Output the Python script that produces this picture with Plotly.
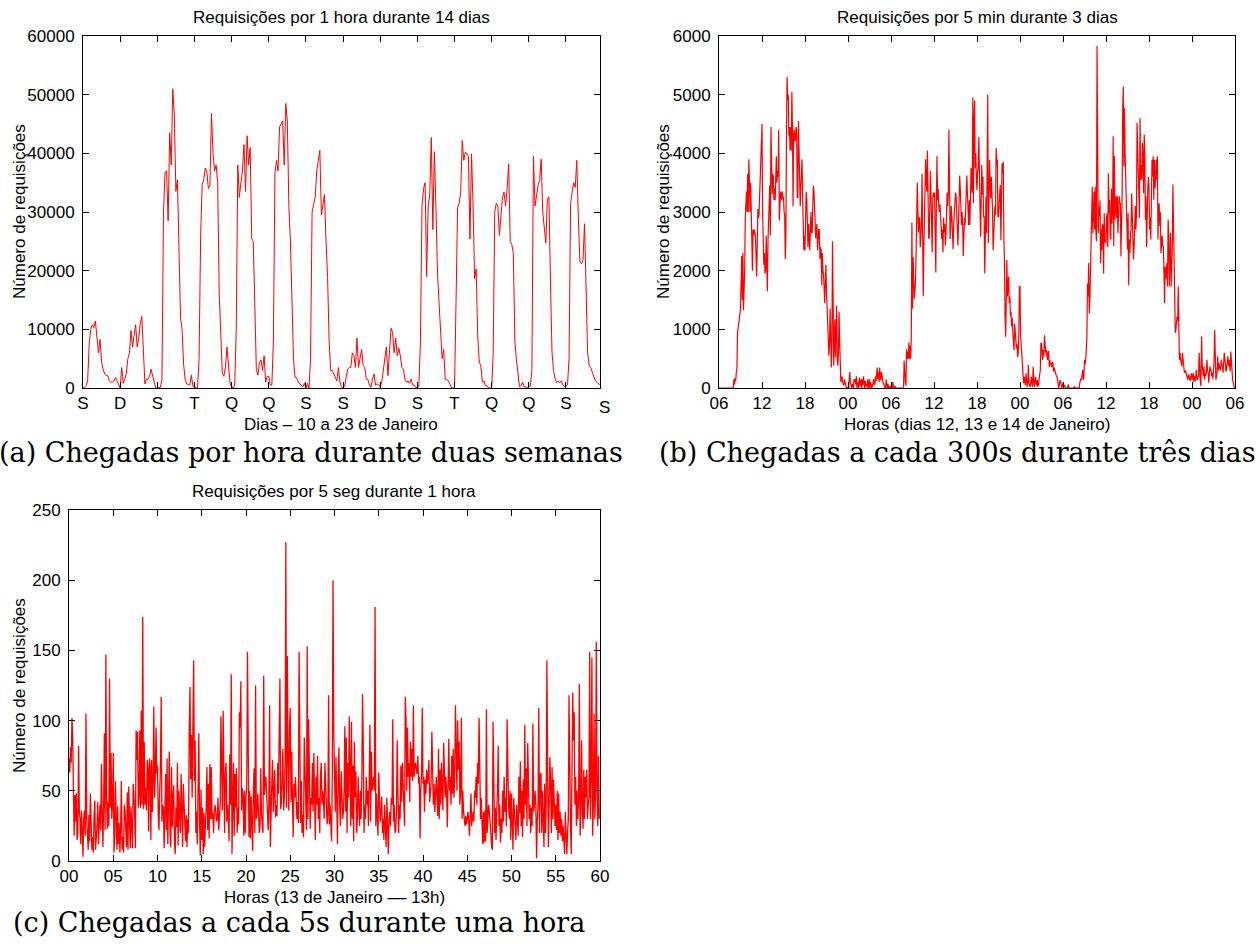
import plotly.graph_objects as go

# ---------------- DATA ----------------
# (a) requests per hour, 14 days (10..23 Jan), 24 values per day
day_labels_a = ["S", "D", "S", "T", "Q", "Q", "S", "S", "D", "S", "T", "Q", "Q", "S", "S"]
day01 = [0, 100, 400, 1200, 7500, 10000, 10800, 10300, 11400, 8300, 6000, 8300, 4400, 3200, 2400, 2100, 2100, 1200, 1000, 1000, 1200, 1800, 1200, 700]
day02 = [0, 3500, 800, 1500, 2500, 5000, 6000, 9800, 7000, 9000, 10800, 7000, 8500, 11000, 12200, 6500, 700, 1500, 1500, 2000, 3200, 2000, 1000, 0]
day03 = [0, 0, 100, 1500, 30000, 36800, 37000, 28500, 43500, 38000, 51000, 46500, 33500, 35500, 25000, 12000, 10000, 4000, 1500, 700, 600, 500, 2200, 300]
day04 = [300, 0, 0, 5000, 26000, 34700, 35500, 37500, 36800, 34000, 34500, 46800, 40000, 37000, 38000, 35000, 16000, 9000, 2500, 2000, 3500, 7000, 3000, 800]
day05 = [200, 0, 500, 10000, 38000, 32500, 35000, 37000, 41500, 33500, 43000, 38000, 41000, 25400, 25000, 12000, 3000, 2200, 4300, 4800, 3000, 5500, 1000, 2000]
day06 = [2000, 500, 500, 8000, 36500, 38800, 37000, 44500, 45000, 45500, 38000, 48500, 45500, 31000, 25000, 15000, 5000, 1800, 1800, 1000, 700, 500, 200, 800]
day07 = [0, 800, 0, 5000, 30000, 31300, 32500, 37000, 38500, 40500, 29500, 31000, 33000, 25000, 19000, 8000, 3000, 3000, 2400, 1500, 1200, 3500, 1000, 200]
day08 = [0, 300, 1500, 3200, 3500, 3500, 6000, 5500, 3500, 8500, 3500, 5000, 6600, 3800, 3500, 1500, 1500, 500, 100, 1500, 2400, 500, 700, 600]
day09 = [200, 1000, 3000, 5000, 7000, 2100, 6500, 10200, 9500, 6000, 8500, 5500, 6800, 5500, 3500, 3200, 1500, 1000, 1200, 800, 1500, 500, 500, 100]
day10 = [0, 400, 8000, 31000, 34000, 35000, 19000, 31000, 33000, 42700, 27000, 40300, 31000, 19700, 14600, 8900, 5000, 6600, 1500, 1500, 1200, 700, 100, 0]
day11 = [0, 14600, 30800, 31400, 33400, 42200, 38800, 40200, 39900, 39500, 25400, 39900, 31000, 18600, 20300, 8900, 4400, 3800, 1000, 1200, 400, 400, 0, 0]
day12 = [0, 6000, 30000, 31500, 31000, 26000, 29000, 32500, 33400, 31000, 34000, 38200, 25000, 24500, 23000, 8000, 4800, 2000, 200, 400, 1000, 200, 100, 100]
day13 = [300, 300, 3000, 39500, 31000, 33000, 34500, 35500, 39000, 30000, 26500, 24700, 32200, 32600, 18000, 6000, 3000, 1500, 900, 1200, 900, 1200, 500, 300]
day14 = [300, 500, 5000, 31400, 33400, 35000, 34200, 38800, 29000, 21600, 21200, 21800, 28000, 14600, 6000, 3800, 3500, 2700, 1800, 1200, 1000, 700, 600, 500]
hourly_a = (day01 + day02 + day03 + day04 + day05 + day06 + day07 + day08 + day09
            + day10 + day11 + day12 + day13 + day14)

# (b) requests per 5 min, 72 h from 06:00 on 12 Jan, 12 values per hour
hour_labels_b = ["06", "12", "18", "00", "06", "12", "18", "00", "06", "12", "18", "00", "06"]
b_hours = [
    [0, 0, 0, 0, 0, 0, 0, 0, 0, 0, 0, 0],
    [0, 0, 0, 0, 0, 0, 0, 0, 0, 0, 0, 0],
    [0, 150, 60, 170, 120, 280, 330, 950, 1000, 1100, 1170, 1250],
    [1350, 1800, 2250, 1500, 2300, 1330, 1550, 2000, 2900, 3200, 3350, 3000],
    [3650, 3000, 3900, 3500, 3000, 3500, 2950, 3000, 2000, 2700, 2600, 2700],
    [2650, 2600, 2250, 1900, 2400, 3050, 2900, 2950, 3300, 3750, 3700, 4200],
    [4500, 3000, 2400, 2100, 2300, 1950, 2000, 2600, 2200, 1650, 2500, 3150],
    [3150, 3450, 2600, 4450, 3600, 3300, 3650, 3600, 3200, 3400, 3200, 3900],
    [3950, 3500, 3700, 3600, 4400, 2850, 3100, 3350, 3300, 3200, 3350, 3250],
    [3250, 3000, 2950, 2200, 2600, 4300, 5300, 4900, 5000, 4300, 4450, 4050],
    [4450, 4050, 5050, 4400, 3100, 4300, 4400, 4200, 4250, 4450, 4400, 3250],
    [3250, 4550, 4000, 3800, 3100, 3400, 3650, 3900, 3300, 2950, 2350, 2600],
    [2350, 2900, 3350, 3200, 2700, 2400, 2800, 2600, 2350, 2700, 3000, 2650],
    [2650, 3100, 3450, 3350, 2900, 2800, 2550, 2700, 2800, 2350, 2600, 2700],
    [2700, 2200, 2400, 2350, 1750, 2300, 2000, 1950, 1700, 1450, 1800, 2100],
    [1650, 1400, 1300, 900, 550, 750, 1350, 900, 350, 600, 2500, 1600],
    [380, 800, 1170, 520, 900, 1400, 500, 380, 600, 1300, 800, 350],
    [100, 150, 200, 100, 60, 40, 150, 80, 70, 20, 10, 0],
    [0, 0, 150, 270, 100, 40, 0, 70, 20, 0, 150, 100],
    [150, 60, 200, 0, 40, 100, 0, 180, 100, 30, 150, 0],
    [150, 50, 200, 40, 0, 120, 30, 70, 0, 150, 60, 0],
    [150, 0, 100, 30, 0, 40, 100, 150, 50, 80, 200, 120],
    [250, 350, 150, 270, 100, 350, 200, 130, 270, 200, 80, 70],
    [70, 20, 0, 0, 150, 60, 0, 70, 0, 10, 0, 40],
    [0, 40, 0, 100, 20, 0, 40, 0, 0, 0, 0, 0],
    [0, 0, 0, 0, 0, 0, 0, 0, 0, 0, 470, 100],
    [100, 40, 660, 500, 620, 500, 780, 500, 720, 500, 900, 2820],
    [1350, 2230, 1700, 1520, 1650, 1800, 2300, 2900, 3500, 3000, 2650, 2900],
    [2900, 2400, 2600, 2800, 3650, 3000, 1570, 2400, 2950, 3300, 3900, 3500],
    [3350, 4050, 3000, 2570, 2540, 3100, 3700, 3280, 2800, 2310, 3250, 3330],
    [3250, 3330, 2600, 1970, 3200, 3950, 3200, 3400, 3100, 3000, 3130, 2900],
    [2900, 2540, 2700, 2310, 2900, 2650, 2800, 2430, 2600, 2950, 3330, 3100],
    [3330, 4400, 2600, 2540, 2800, 3100, 2900, 2600, 2370, 2800, 3100, 3300],
    [3330, 3280, 3000, 2900, 2430, 2800, 3440, 3620, 3400, 3200, 2780, 3000],
    [2780, 2250, 2600, 2900, 2780, 3000, 3280, 3620, 3300, 3000, 2780, 3200],
    [2780, 3200, 3750, 3440, 3330, 4950, 3150, 4550, 4900, 3740, 4000, 3550],
    [3375, 3700, 3720, 4280, 3500, 3030, 2580, 3200, 3800, 3300, 3600, 2920],
    [2920, 1950, 2600, 3260, 2640, 4000, 5000, 2470, 3200, 3890, 3500, 3230],
    [3600, 3300, 3030, 2350, 2700, 2890, 3100, 2950, 4090, 3800, 3900, 2920],
    [2920, 3150, 3300, 3460, 2520, 3000, 3830, 3660, 3850, 2540, 2180, 1220],
    [875, 1500, 2180, 1560, 1700, 1900, 1450, 1560, 1220, 1300, 1050, 1200],
    [930, 800, 650, 1100, 900, 820, 680, 750, 530, 600, 850, 1730],
    [1730, 900, 760, 600, 420, 250, 80, 190, 100, 50, 250, 120],
    [20, 100, 390, 80, 30, 20, 100, 190, 80, 20, 360, 200],
    [20, 120, 190, 80, 40, 140, 20, 60, 190, 250, 310, 760],
    [760, 600, 480, 650, 550, 900, 730, 600, 650, 580, 480, 620],
    [620, 360, 480, 400, 420, 360, 450, 420, 280, 350, 310, 250],
    [250, 200, 190, 120, 80, 0, 60, 140, 100, 80, 0, 30],
    [80, 20, 40, 50, 0, 0, 0, 0, 20, 60, 0, 0],
    [0, 0, 0, 0, 0, 0, 0, 20, 0, 0, 0, 0],
    [0, 0, 0, 0, 80, 120, 160, 140, 200, 310, 140, 200],
    [480, 400, 480, 650, 875, 1780, 1560, 2130, 1270, 1500, 2000, 2410],
    [3030, 3430, 2640, 3000, 3350, 2700, 3430, 2700, 2500, 5830, 3430, 2640],
    [3090, 2920, 3200, 2130, 2700, 2350, 2800, 2750, 1950, 2980, 2500, 2470],
    [2470, 2920, 2980, 2400, 3660, 2980, 3210, 2600, 2530, 3400, 2800, 3000],
    [4290, 2420, 3950, 2870, 3100, 3270, 2900, 3270, 2640, 3000, 3270, 3150],
    [3150, 2240, 2760, 3300, 4770, 5140, 3780, 4770, 4000, 3500, 2870, 2360],
    [2360, 2980, 1750, 2530, 2300, 2640, 2700, 3320, 2870, 2500, 2190, 2400],
    [2810, 3100, 2700, 2980, 4520, 3890, 3500, 3320, 2900, 4600, 3550, 3800],
    [3550, 4180, 3950, 3320, 4320, 4000, 2870, 3270, 2400, 3100, 3410, 3600],
    [3410, 2700, 2900, 2530, 3100, 3890, 3600, 3950, 3210, 3890, 3400, 3550],
    [3890, 3550, 3950, 2530, 3010, 3150, 2760, 3000, 2300, 2420, 2600, 2420],
    [2420, 2020, 1450, 2070, 1850, 2000, 2130, 1730, 2870, 2640, 1730, 2190],
    [2640, 1730, 2190, 2360, 3470, 2800, 1620, 1160, 940, 990, 1100, 1220],
    [1140, 1730, 990, 480, 600, 480, 400, 370, 600, 450, 310, 280],
    [260, 300, 260, 200, 150, 140, 230, 200, 170, 120, 200, 250],
    [140, 200, 260, 100, 200, 170, 120, 310, 200, 140, 180, 200],
    [600, 260, 100, 30, 880, 400, 310, 200, 370, 140, 260, 200],
    [260, 480, 300, 260, 90, 200, 370, 300, 310, 200, 260, 150],
    [260, 480, 990, 310, 140, 200, 260, 540, 300, 430, 350, 310],
    [310, 480, 400, 370, 260, 450, 600, 500, 430, 280, 350, 540],
    [540, 370, 480, 400, 280, 620, 400, 200, 140, 100, 30, 0],
]
five_min_b = [v for hour in b_hours for v in hour]

# (c) requests per 5 s during one hour (13 Jan, 13h), 12 values per minute
minute_labels_c = ["00", "05", "10", "15", "20", "25", "30", "35", "40", "45", "50", "55", "60"]
c_minutes = [
    [73, 63, 81, 70, 102, 88, 50, 18, 47, 28, 48, 15],
    [20, 82, 35, 30, 12, 36, 22, 3, 30, 36, 18, 105],
    [30, 12, 8, 33, 14, 48, 28, 8, 17, 6, 32, 43],
    [8, 15, 25, 42, 12, 28, 40, 22, 69, 35, 10, 40],
    [91, 22, 147, 45, 23, 42, 25, 130, 38, 77, 30, 40],
    [77, 6, 18, 57, 26, 8, 39, 12, 27, 6, 22, 57],
    [8, 17, 6, 40, 36, 22, 10, 49, 8, 53, 37, 9],
    [39, 21, 9, 55, 48, 33, 9, 93, 72, 92, 38, 45],
    [93, 38, 107, 40, 174, 37, 85, 40, 52, 36, 72, 66],
    [21, 73, 68, 15, 72, 35, 56, 110, 45, 60, 95, 62],
    [68, 33, 22, 50, 65, 117, 28, 40, 38, 9, 30, 62],
    [22, 73, 12, 55, 78, 20, 10, 67, 24, 45, 54, 13],
    [5, 38, 24, 70, 11, 50, 38, 20, 62, 14, 10, 55],
    [37, 22, 14, 33, 10, 30, 20, 92, 124, 58, 90, 45],
    [110, 143, 57, 86, 20, 35, 12, 48, 91, 30, 4, 51],
    [15, 38, 5, 34, 10, 28, 38, 67, 22, 55, 16, 69],
    [30, 67, 30, 34, 20, 35, 40, 35, 28, 30, 45, 22],
    [34, 40, 103, 75, 36, 107, 48, 20, 62, 70, 28, 40],
    [30, 14, 76, 40, 133, 5, 40, 70, 18, 62, 38, 66],
    [20, 38, 26, 106, 95, 128, 36, 52, 46, 18, 50, 20],
    [46, 52, 149, 60, 17, 50, 16, 46, 30, 7, 52, 66],
    [20, 125, 30, 35, 48, 22, 20, 25, 66, 33, 21, 20],
    [132, 47, 58, 60, 48, 35, 22, 40, 111, 10, 45, 55],
    [72, 35, 50, 65, 31, 40, 32, 70, 48, 80, 130, 37],
    [42, 60, 80, 36, 45, 70, 227, 38, 146, 72, 36, 95],
    [109, 42, 78, 44, 17, 55, 45, 60, 50, 30, 42, 27],
    [149, 95, 27, 57, 20, 33, 17, 88, 70, 50, 22, 153],
    [30, 101, 62, 23, 45, 40, 70, 35, 77, 50, 15, 60],
    [40, 75, 30, 45, 20, 60, 70, 40, 50, 45, 30, 70],
    [45, 40, 26, 32, 118, 26, 40, 22, 14, 60, 200, 92],
    [40, 35, 74, 45, 12, 60, 81, 40, 25, 64, 50, 30],
    [35, 50, 96, 35, 88, 20, 70, 45, 103, 70, 25, 99],
    [30, 68, 14, 85, 45, 64, 20, 30, 60, 40, 25, 50],
    [30, 55, 119, 85, 20, 40, 30, 60, 40, 50, 25, 55],
    [97, 28, 78, 50, 55, 60, 50, 181, 25, 48, 30, 18],
    [63, 40, 28, 35, 46, 20, 30, 15, 40, 25, 10, 45],
    [20, 5, 30, 35, 25, 45, 40, 101, 28, 40, 20, 22],
    [35, 86, 50, 20, 40, 30, 68, 42, 70, 60, 40, 25],
    [117, 100, 50, 95, 60, 70, 42, 85, 60, 80, 57, 111],
    [60, 68, 70, 65, 62, 75, 55, 60, 16, 50, 62, 109],
    [55, 60, 35, 58, 48, 65, 55, 60, 72, 42, 47, 55],
    [92, 50, 40, 55, 35, 48, 60, 45, 32, 80, 30, 65],
    [40, 70, 45, 36, 84, 55, 45, 60, 50, 24, 68, 87],
    [50, 60, 40, 75, 48, 80, 45, 60, 111, 78, 50, 100],
    [65, 85, 40, 50, 102, 30, 50, 35, 28, 25, 32, 26],
    [30, 35, 28, 18, 32, 48, 25, 30, 35, 28, 50, 45],
    [60, 40, 70, 55, 102, 68, 30, 45, 20, 12, 35, 13],
    [36, 14, 108, 20, 30, 40, 35, 30, 20, 10, 8, 99],
    [30, 20, 38, 15, 35, 50, 82, 25, 40, 13, 30, 20],
    [50, 28, 60, 35, 45, 25, 101, 64, 40, 30, 50, 15],
    [48, 30, 8, 45, 30, 22, 15, 40, 28, 18, 60, 34],
    [71, 25, 50, 17, 58, 30, 97, 40, 66, 25, 84, 35],
    [30, 40, 20, 38, 25, 98, 35, 40, 50, 40, 2, 30],
    [40, 109, 20, 60, 63, 20, 50, 30, 10, 55, 20, 40],
    [143, 60, 10, 40, 74, 55, 20, 67, 30, 58, 36, 25],
    [40, 22, 50, 15, 48, 20, 35, 18, 30, 14, 25, 16],
    [5, 35, 25, 5, 20, 30, 118, 48, 25, 5, 106, 120],
    [86, 106, 40, 60, 25, 50, 30, 45, 126, 18, 35, 86],
    [40, 23, 65, 30, 60, 45, 65, 30, 40, 45, 149, 30],
    [60, 145, 18, 40, 105, 30, 50, 156, 50, 25, 75, 30],
]
five_sec_c = [v for minute in c_minutes for v in minute]

# ---------------- LAYOUT ----------------
W, H = 1259, 944
SANS = "Liberation Sans, Arial, Helvetica, sans-serif"
SERIF = "DejaVu Serif, serif"
RED = "#ff0000"

def fx(px):
    return px / W

def fy(py):
    return 1 - py / H

boxes = {
    "a": (83, 36, 600, 388),
    "b": (719, 36, 1235, 388),
    "c": (69, 510, 600, 861),
}

fig = go.Figure()

xa = list(range(len(hourly_a)))
xb = [i / 12 for i in range(len(five_min_b))]
xc = [i / 12 for i in range(len(five_sec_c))]

fig.add_trace(go.Scatter(x=xa, y=hourly_a, mode="lines", line=dict(color=RED, width=1),
                         xaxis="x", yaxis="y", showlegend=False))
fig.add_trace(go.Scatter(x=xb, y=five_min_b, mode="lines", line=dict(color=RED, width=1.2),
                         xaxis="x2", yaxis="y2", showlegend=False))
fig.add_trace(go.Scatter(x=xc, y=five_sec_c, mode="lines", line=dict(color=RED, width=1.3),
                         xaxis="x3", yaxis="y3", showlegend=False))

def axis_style(**kw):
    base = dict(showline=True, linecolor="black", linewidth=1, mirror="ticks",
                ticks="inside", ticklen=6, tickcolor="black", tickwidth=1,
                showgrid=False, zeroline=False, fixedrange=True, automargin=False,
                tickfont=dict(family=SANS, size=17, color="black"))
    base.update(kw)
    return base

def dom(box):
    x0, y0, x1, y1 = box
    return [fx(x0), fx(x1)], [fy(y1), fy(y0)]

da_x, da_y = dom(boxes["a"])
db_x, db_y = dom(boxes["b"])
dc_x, dc_y = dom(boxes["c"])

fig.update_layout(
    width=W, height=H, margin=dict(l=0, r=0, t=0, b=0, pad=0), autosize=False,
    paper_bgcolor="white", plot_bgcolor="white", showlegend=False,
    xaxis=axis_style(domain=da_x, anchor="y", range=[0, 334],
                     tickvals=[24 * i for i in range(14)], ticktext=day_labels_a[:14]),
    yaxis=axis_style(domain=da_y, anchor="x", range=[0, 60000], tickvals=list(range(0, 60001, 10000)),
                     tickformat="d", ticklabelstandoff=4),
    xaxis2=axis_style(domain=db_x, anchor="y2", range=[0, 72],
                      tickvals=[6 * i for i in range(13)], ticktext=hour_labels_b),
    yaxis2=axis_style(domain=db_y, anchor="x2", range=[0, 6000], tickvals=list(range(0, 6001, 1000)),
                      tickformat="d", ticklabelstandoff=4),
    xaxis3=axis_style(domain=dc_x, anchor="y3", range=[0, 60],
                      tickvals=[5 * i for i in range(13)], ticktext=minute_labels_c),
    yaxis3=axis_style(domain=dc_y, anchor="x3", range=[0, 250], tickvals=list(range(0, 251, 50)),
                      tickformat="d", ticklabelstandoff=4),
)

ann = []

def text(x, y, s, size=17, family=SANS, angle=0, xanchor="center"):
    ann.append(dict(x=fx(x), y=fy(y), xref="paper", yref="paper", text=s, showarrow=False,
                    xanchor=xanchor, yanchor="middle", textangle=angle,
                    font=dict(family=family, size=size, color="black")))

# last day label of panel (a) lies just past the axis end
text(604, 407, day_labels_a[14])

# panel titles
text(341, 17, "Requisições por 1 hora durante 14 dias", size=17)
text(977, 17, "Requisições por 5 min durante 3 dias", size=17)
text(334, 491, "Requisições por 5 seg durante 1 hora", size=17)
# x axis titles
text(341, 424, "Dias – 10 a 23 de Janeiro", size=17)
text(977, 424, "Horas (dias 12, 13 e 14 de Janeiro)", size=17)
text(334, 897, "Horas (13 de Janeiro –– 13h)", size=17)
# y axis titles
text(19, 212, "Número de requisições", size=17, angle=-90)
text(663, 212, "Número de requisições", size=17, angle=-90)
text(19, 686, "Número de requisições", size=17, angle=-90)
# captions
text(311, 452, "(a) Chegadas por hora durante duas semanas", size=27, family=SERIF)
text(957, 452, "(b) Chegadas a cada 300s durante três dias", size=27, family=SERIF)
text(299, 922, "(c) Chegadas a cada 5s durante uma hora", size=27, family=SERIF)

fig.update_layout(annotations=ann)

fig.write_html("out.html", config={"displayModeBar": False})
